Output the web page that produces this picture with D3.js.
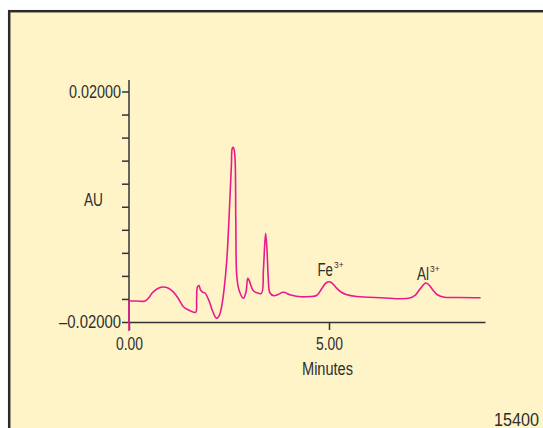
<!DOCTYPE html>
<html>
<head>
<meta charset="utf-8">
<script src="https://cdn.jsdelivr.net/npm/d3@7"></script>
<style>
  body { margin: 0; background: #fff; }
  text { font-family: "Liberation Sans", Arial, sans-serif; fill: #2e2e2e; }
</style>
</head>
<body>
<svg id="chart" width="543" height="428"></svg>
<script>
// chromatogram trace
var minutes = [0, 0, 0.20, 0.40, 0.50, 0.585, 0.70, 0.84, 0.975, 1.10, 1.225, 1.36, 1.49, 1.665,
  1.69, 1.71, 1.75, 1.79, 1.85, 1.90, 2.01, 2.09, 2.185, 2.25, 2.315, 2.375, 2.445,
  2.51, 2.56, 2.585, 2.61, 2.645, 2.67, 2.695, 2.75, 2.86, 2.925, 2.97, 3.01, 3.095,
  3.175, 3.31, 3.36, 3.415, 3.45, 3.48, 3.525, 3.625, 3.725, 3.855, 4.048, 4.305,
  4.525, 4.69, 4.825, 4.925, 5.015, 5.10, 5.175, 5.30, 5.43, 5.69, 6.30, 6.99, 7.16,
  7.275, 7.42, 7.50, 7.595, 7.70, 7.855, 8.275, 8.79];
var au = [-0.02156, -0.01636, -0.01636, -0.01636, -0.01575, -0.01492, -0.01427, -0.01393, -0.0141, -0.01474,
  -0.01584, -0.01735, -0.01792, -0.01832, -0.01618, -0.01393, -0.01367, -0.01445,
  -0.01485, -0.01497, -0.01648, -0.01809, -0.01936, -0.01896, -0.01735, -0.01445,
  -0.00924, -0.00057, 0.00724, 0.0102, 0.01028, 0.00897, -0.0023, -0.01202, -0.01445,
  -0.01589, -0.0148, -0.01242, -0.01289, -0.01445, -0.01488, -0.01502, -0.01098,
  -0.00461, -0.00751, -0.01214, -0.01497, -0.01544, -0.01523, -0.01485, -0.01532,
  -0.01563, -0.01558, -0.0154, -0.01415, -0.01323, -0.01301, -0.01341, -0.01401,
  -0.0148, -0.01523, -0.01558, -0.01578, -0.01589, -0.01532, -0.01427, -0.01323,
  -0.01358, -0.01445, -0.01523, -0.01566, -0.01575, -0.01578];

var xTicks = [0, 5];
var xTickLabels = ['0.00', '5.00'];
var yTicks = d3.range(11).map(function(i) { return -0.02 + i * 0.004; });
var yTickLabels = ['\u20130.02000', '', '', '', '', '', '', '', '', '', '0.02000'];

var peaks = [
  {ion: 'Fe', charge: '3+', x: 317.5, y: 276, w: 15.5, sw: 9.5},
  {ion: 'Al', charge: '3+', x: 417, y: 280, w: 12, sw: 9.5}
];

var svg = d3.select('#chart');

//Panel
svg.append('rect')
  .attr('x', 9.2).attr('y', 11.2)
  .attr('width', 560).attr('height', 440)
  .attr('fill', '#fff4c8')
  .attr('stroke', '#2b2b2b')
  .attr('stroke-width', 2.5);

var x = d3.scaleLinear().domain([0, 8.9]).range([129, 485]);
var y = d3.scaleLinear().domain([-0.02, 0.02]).range([322, 91.5]);

// fix a text to a measured width (the original font is condensed)
var fit = function(sel, len) {
  sel.attr('textLength', len).attr('lengthAdjust', 'spacingAndGlyphs');
};

//Y axis
var yAxis = svg.append('g')
  .attr('transform', 'translate(129,0)')
  .call(d3.axisLeft(y).tickValues(yTicks).tickSize(7).tickSizeOuter(0)
    .tickFormat(function(d, i) { return yTickLabels[i]; }));
yAxis.select('.domain').remove();
yAxis.selectAll('line').attr('stroke', '#333').attr('stroke-width', 1.5);
yAxis.selectAll('text')
  .attr('x', -8)
  .style('font-size', '18px')
  .each(function() {
    var t = d3.select(this);
    if (t.text()) fit(t, t.text().length > 7 ? 62 : 52);
  });
svg.append('line')
  .attr('x1', 129).attr('x2', 129)
  .attr('y1', 80).attr('y2', y(-0.02))
  .attr('stroke', '#333').attr('stroke-width', 1.5);

//X axis
var xAxis = svg.append('g')
  .attr('transform', 'translate(0,' + y(-0.02) + ')')
  .call(d3.axisBottom(x).tickValues(xTicks).tickSize(8).tickSizeOuter(0)
    .tickFormat(function(d, i) { return xTickLabels[i]; }));
xAxis.select('.domain').attr('stroke', '#333').attr('stroke-width', 1.5);
xAxis.selectAll('line').attr('stroke', '#333').attr('stroke-width', 1.5);
xAxis.selectAll('text')
  .attr('y', 15).attr('dy', '0.71em')
  .style('font-size', '18px')
  .call(fit, 27);

//Axis titles
svg.append('text').attr('x', 327.5).attr('y', 375)
  .attr('text-anchor', 'middle').style('font-size', '18px')
  .text('Minutes').call(fit, 51);
svg.append('text').attr('x', 93.5).attr('y', 206)
  .attr('text-anchor', 'middle').style('font-size', '18px')
  .text('AU').call(fit, 19);

//Trace: straight lead-in at injection, smooth after that
var pts = d3.zip(minutes, au);
var lineStraight = d3.line()
  .x(function(d) { return x(d[0]); })
  .y(function(d) { return y(d[1]); });
var lineSmooth = d3.line()
  .x(function(d) { return x(d[0]); })
  .y(function(d) { return y(d[1]); })
  .curve(d3.curveCatmullRom.alpha(0.5));
var traceD = lineStraight(pts.slice(0, 2)) + lineSmooth(pts.slice(1)).replace(/^M[^LC]*/, '');
svg.append('path')
  .attr('d', traceD)
  .attr('fill', 'none')
  .attr('stroke', '#ea1a8c')
  .attr('stroke-width', 1.6)
  .attr('stroke-linejoin', 'round');

//Peak labels (ion with superscript charge in one text)
peaks.forEach(function(p) {
  var t = svg.append('text').attr('x', p.x).attr('y', p.y)
    .style('font-size', '18px');
  t.append('tspan').text(p.ion).call(fit, p.w);
  t.append('tspan').attr('dx', 1).attr('dy', -8)
    .style('font-size', '8.5px').text(p.charge).call(fit, p.sw);
});

//Figure number
svg.append('text').attr('x', 539).attr('y', 425.5)
  .attr('text-anchor', 'end').style('font-size', '18px')
  .text('15400').call(fit, 45);
</script>
</body>
</html>
